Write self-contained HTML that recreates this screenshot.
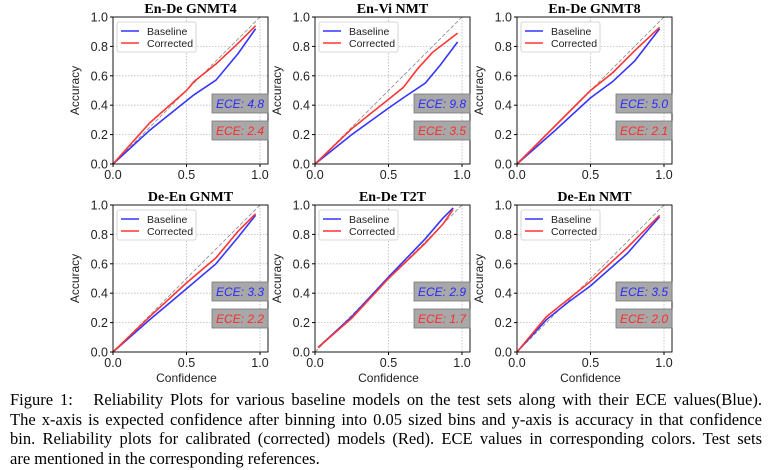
<!DOCTYPE html>
<html><head><meta charset="utf-8"><style>
body{margin:0;background:#fff;width:768px;height:470px;overflow:hidden;position:relative}
svg{position:absolute;left:0;top:0}
#cap{position:absolute;left:10px;top:390px;width:752px;font-family:"Liberation Serif",serif;font-size:16.5px;line-height:19.5px;color:#000}
#cap div{text-align:justify;text-align-last:justify;white-space:nowrap}
#cap div.last{text-align-last:left}
</style></head><body>
<svg id="fig" width="768" height="390"></svg>
<div id="cap">
<div style="white-space:normal">Figure 1:&nbsp;&nbsp; Reliability Plots for various baseline models on the test sets along with their ECE values(Blue).</div>
<div style="white-space:normal">The x-axis is expected confidence after binning into 0.05 sized bins and y-axis is accuracy in that confidence</div>
<div style="white-space:normal">bin. Reliability plots for calibrated (corrected) models (Red). ECE values in corresponding colors. Test sets</div>
<div class="last">are mentioned in the corresponding references.</div>
</div>
<script>
const titles=["En-De GNMT4","En-Vi NMT","En-De GNMT8","De-En GNMT","En-De T2T","De-En NMT"];
const eceBase=["4.8","9.8","5.0","3.3","2.9","3.5"];
const eceCorr=["2.4","3.5","2.1","2.2","1.7","2.0"];
const baseX=[[0,0.25,0.5,0.55,0.7,0.85,0.97],[0,0.25,0.5,0.6,0.75,0.85,0.97],[0,0.25,0.5,0.65,0.8,0.97],[0,0.25,0.5,0.7,0.85,0.97],[0.02,0.25,0.5,0.75,0.87,0.94],[0,0.2,0.35,0.5,0.75,0.97]];
const baseY=[[0,0.23,0.43,0.47,0.57,0.75,0.92],[0,0.2,0.38,0.45,0.55,0.67,0.83],[0,0.22,0.45,0.56,0.7,0.92],[0,0.22,0.43,0.6,0.78,0.93],[0.03,0.24,0.51,0.77,0.91,0.98],[0,0.22,0.34,0.45,0.67,0.92]];
const corrX=[[0,0.25,0.5,0.55,0.7,0.85,0.97],[0,0.25,0.5,0.6,0.7,0.8,0.97],[0,0.25,0.5,0.65,0.8,0.97],[0,0.25,0.5,0.7,0.85,0.97],[0.02,0.25,0.5,0.75,0.87,0.94],[0,0.2,0.5,0.75,0.97]];
const corrY=[[0,0.28,0.5,0.56,0.68,0.82,0.94],[0,0.24,0.44,0.52,0.65,0.76,0.89],[0,0.25,0.5,0.62,0.77,0.93],[0,0.24,0.47,0.64,0.82,0.94],[0.03,0.23,0.5,0.74,0.87,0.97],[0,0.24,0.48,0.71,0.93]];
const xTicks=[0,0.5,1.0], yTicks=[0,0.2,0.4,0.6,0.8,1.0];
const NS="http://www.w3.org/2000/svg", svg=document.getElementById('fig');
function mk(t,a,p){const e=document.createElementNS(NS,t);for(const k in a)e.setAttribute(k,a[k]);(p||svg).appendChild(e);return e;}
const lefts=[113,315,517], tops=[17,205], W=155, H=147, U=147;
for(let i=0;i<6;i++){
  const L=lefts[i%3], T=tops[Math.floor(i/3)];
  const g=mk('g',{});
  
  
  const sx=v=>L+v*U, sy=v=>T+H-v*H;
  xTicks.forEach(v=>{if(v>0&&v<1.01){const l=mk('line',{x1:sx(v),x2:sx(v),y1:T,y2:T+H,stroke:'#bbb','stroke-dasharray':'1.5,1.5','stroke-width':0.8},g);}});
  yTicks.forEach(v=>{if(v>0&&v<1){const l=mk('line',{x1:L,x2:L+W,y1:sy(v),y2:sy(v),stroke:'#bbb','stroke-dasharray':'1.5,1.5','stroke-width':0.8},g);}});
  const d=mk('line',{x1:sx(0),y1:sy(0),x2:sx(1.0),y2:sy(1.0),stroke:'#888','stroke-dasharray':'4,2','stroke-width':0.8},g);
  
  const mkLine=(xs,ys,c,n)=>{const p=mk('polyline',{points:xs.map((x,k)=>sx(x)+','+sy(ys[k])).join(' '),fill:'none',stroke:c,'stroke-width':1.6},g);};
  mkLine(baseX[i],baseY[i],'#3535ff','baseline-line');
  mkLine(corrX[i],corrY[i],'#ff3535','corrected-line');
  const fr=mk('rect',{x:L,y:T,width:W,height:H,fill:'none',stroke:'#000','stroke-width':0.9},g);
  
  xTicks.forEach(v=>{mk('line',{x1:sx(v),x2:sx(v),y1:T+H,y2:T+H+3,stroke:'#000'},g);const t=mk('text',{x:sx(v),y:T+H+15,'text-anchor':'middle','font-family':'Liberation Sans,sans-serif','font-size':12.5,fill:'#222'},g);t.textContent=v.toFixed(1);});
  yTicks.forEach(v=>{mk('line',{x1:L-3,x2:L,y1:sy(v),y2:sy(v),stroke:'#000'},g);const t=mk('text',{x:L-5,y:sy(v)+4.5,'text-anchor':'end','font-family':'Liberation Sans,sans-serif','font-size':12.5,fill:'#222'},g);t.textContent=v.toFixed(1);});
  const tt=mk('text',{x:L+W/2,y:T-4,'text-anchor':'middle','font-family':'Liberation Serif,serif','font-weight':'bold','font-size':14},g);tt.textContent=titles[i];
  
  const ya=mk('text',{x:0,y:0,transform:`translate(${L-34},${T+H/2}) rotate(-90)`,'text-anchor':'middle','font-family':'Liberation Sans,sans-serif','font-size':12,fill:'#222'},g);ya.textContent='Accuracy';
  
  if(i>=3){const xa=mk('text',{x:L+W/2-4,y:T+H+30,'text-anchor':'middle','font-family':'Liberation Sans,sans-serif','font-size':12,fill:'#222'},g);xa.textContent='Confidence';}
  const lg=mk('g',{},g);
  mk('rect',{x:L+4,y:T+5,width:79,height:30,rx:2,fill:'#fff',stroke:'#ccc','stroke-width':0.8},lg);
  [['Baseline','#3535ff'],['Corrected','#ff3535']].forEach((e,k)=>{const yy=T+14+k*12;mk('line',{x1:L+8,x2:L+26,y1:yy,y2:yy,stroke:e[1],'stroke-width':1.6},lg);const t=mk('text',{x:L+34,y:yy+4,'font-family':'Liberation Sans,sans-serif','font-size':10.5,fill:'#222'},lg);t.textContent=e[0];});
  [[eceBase[i],'#2a2aff',T+77],[eceCorr[i],'#ff2a2a',T+104]].forEach(e=>{const b=mk('g',{},g);mk('rect',{x:L+W-56,y:e[2],width:56,height:19,fill:'#a8a8a8',stroke:'#777','stroke-width':0.8},b);const t=mk('text',{x:L+W-28,y:e[2]+14,'text-anchor':'middle','font-family':'Liberation Sans,sans-serif','font-style':'italic','font-size':12,fill:e[1]},b);t.textContent='ECE: '+e[0];});
}
</script>
</body></html>
